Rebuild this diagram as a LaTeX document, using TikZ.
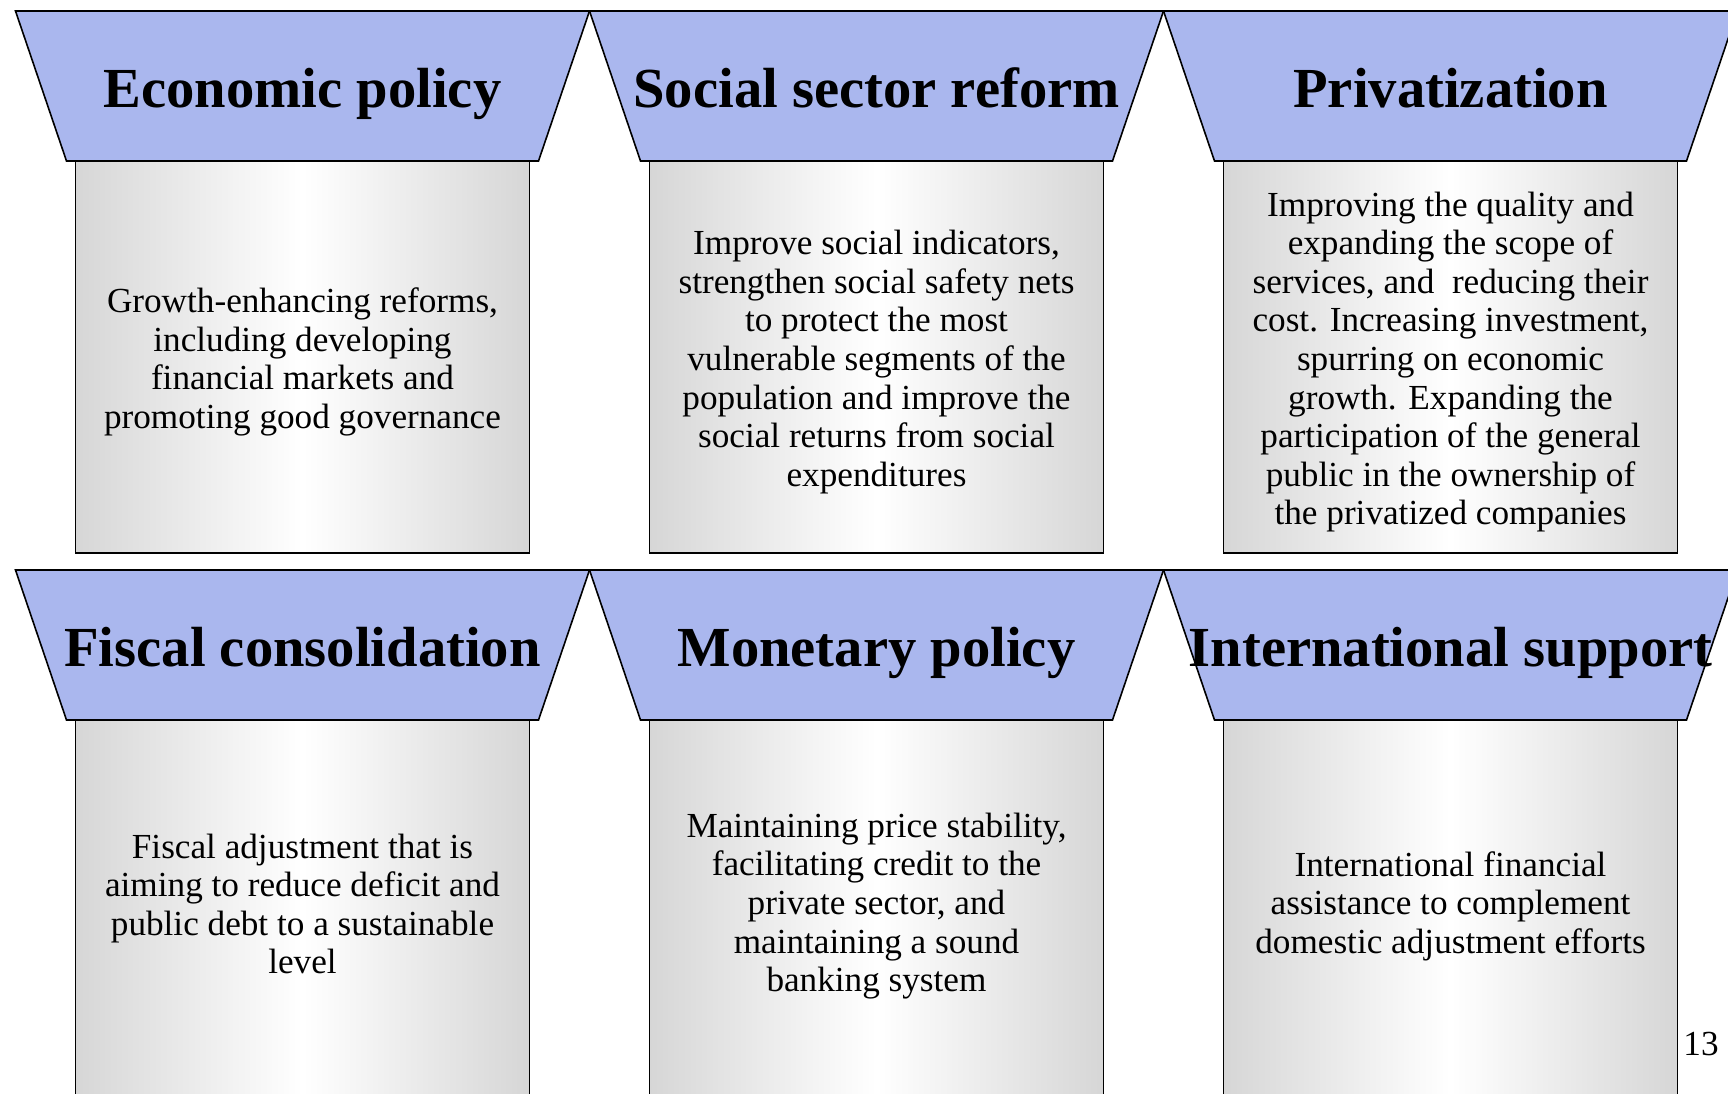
\documentclass[tikz,border=0pt]{standalone}
\usepackage{fontspec}
\setmainfont{Liberation Serif}
\definecolor{trapblue}{RGB}{170,183,238}
\tikzset{
  trap/.style={fill=trapblue, draw=black, line width=0.8pt, line join=miter},
  colbox/.style={draw=black, line width=0.8pt, left color=black!16, right color=black!16, middle color=white},
  titletext/.style={font=\fontsize{28.3}{32}\selectfont\bfseries, anchor=base, inner sep=0pt},
  bodytext/.style={font=\fontsize{17.6}{19.3}\selectfont, align=center, anchor=center, inner sep=0pt},
}
% #1 centre x, #2 top y, #3 name, #4 title, #5 body, #6 body centre y
\newcommand\mkpillar[6]{%
  \draw[colbox] (#1-227,#2+150) rectangle (#1+227,#2+542);
  \draw[trap] (#1-287,#2) -- (#1+287,#2) -- (#1+236,#2+150) -- (#1-236,#2+150) -- cycle;
  \node[titletext] (#3-title) at (#1,#2+96) {#4};
  \node[bodytext] (#3-body) at (#1,#6) {#5};
}
\begin{document}
\begin{tikzpicture}[x=0.5pt,y=-0.5pt]
\useasboundingbox (0,0) rectangle (1728,1093);
\clip (0,0) rectangle (1728,1093);
\mkpillar{302.5}{11}{econ}{Economic policy}{Growth-enhancing reforms,\\including developing\\financial markets and\\promoting good governance}{362}
\mkpillar{876.5}{11}{social}{Social sector reform}{Improve social indicators,\\strengthen social safety nets\\to protect the most\\vulnerable segments of the\\population and improve the\\social returns from social\\expenditures}{362}
\mkpillar{1450.5}{11}{priv}{Privatization}{Improving the quality and\\expanding the scope of\\services, and~ reducing their\\cost. Increasing investment,\\spurring on economic\\growth. Expanding the\\participation of the general\\public in the ownership of\\the privatized companies}{362}
\mkpillar{302.5}{570}{fiscal}{Fiscal consolidation}{Fiscal adjustment that is\\aiming to reduce deficit and\\public debt to a sustainable\\level}{904}
\mkpillar{876.5}{570}{monetary}{Monetary policy}{Maintaining price stability,\\facilitating credit to the\\private sector, and\\maintaining a sound\\banking system}{906}
\mkpillar{1450.5}{570}{intl}{International support}{International financial\\assistance to complement\\domestic adjustment efforts}{906}
\node[font=\fontsize{17.6}{19.3}\selectfont, inner sep=0pt] (pagenum) at (1701,1044) {13};
\end{tikzpicture}
\end{document}
